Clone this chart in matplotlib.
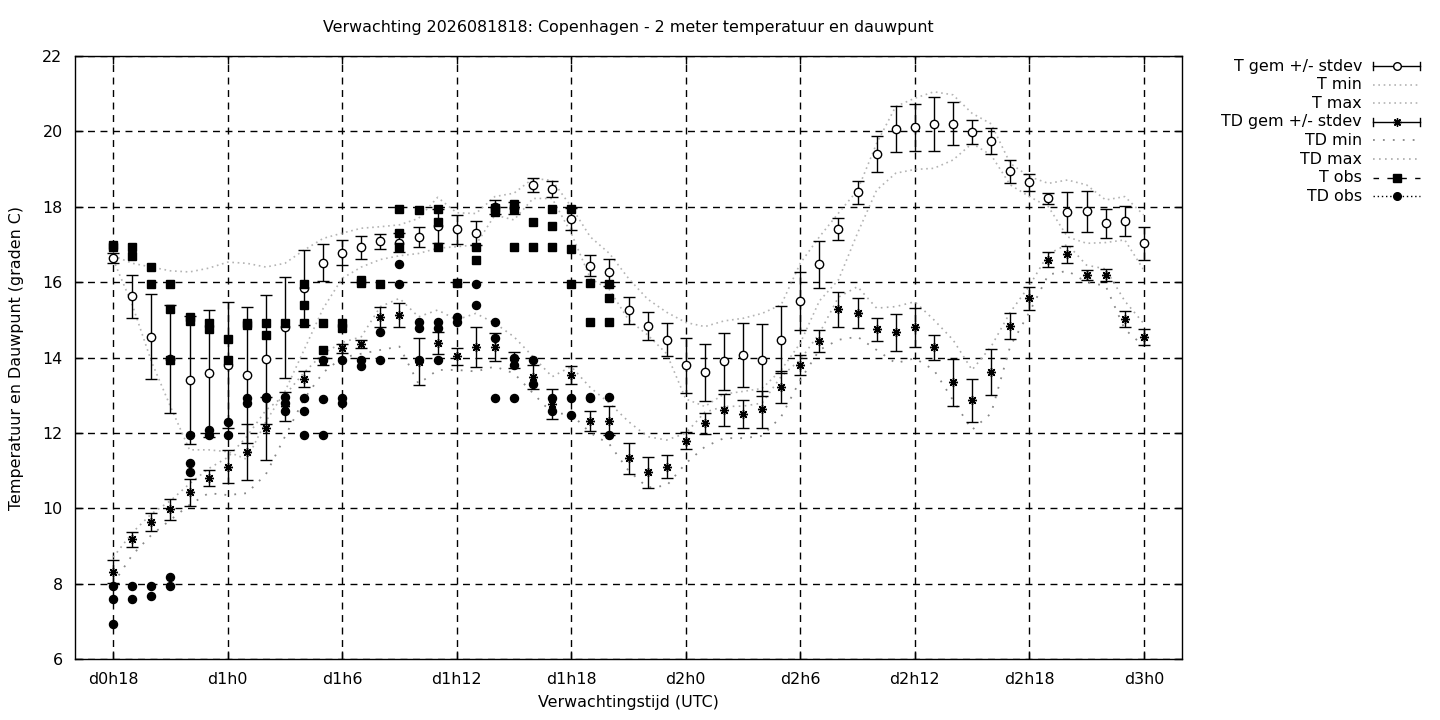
#!/usr/bin/env python3
"""Verwachting Copenhagen: 2 meter temperatuur en dauwpunt (ensemble + obs)."""

import matplotlib
matplotlib.use("Agg")
import matplotlib.pyplot as plt
from matplotlib.lines import Line2D

# uren sinds d0h0
hours = list(range(18, 73))

t_gem = [16.65, 15.63, 14.55, 13.95, 13.40, 13.58, 13.80, 13.54, 13.95, 14.80,
         15.85, 16.52, 16.78, 16.92, 17.08, 17.05, 17.20, 17.49, 17.40, 17.30,
         18.00, 17.97, 18.58, 18.47, 17.67, 16.44, 16.26, 15.25, 14.83, 14.47,
         13.80, 13.61, 13.90, 14.06, 13.93, 14.47, 15.50, 16.47, 17.41, 18.38,
         19.39, 20.06, 20.11, 20.20, 20.20, 19.98, 19.74, 18.94, 18.65, 18.22,
         17.85, 17.88, 17.56, 17.62, 17.03]
t_std = [0.13, 0.57, 1.13, 1.43, 1.70, 1.68, 1.66, 1.81, 1.71, 1.34,
         0.99, 0.49, 0.33, 0.30, 0.21, 0.25, 0.26, 0.45, 0.38, 0.31,
         0.19, 0.15, 0.19, 0.20, 0.29, 0.29, 0.35, 0.36, 0.37, 0.44,
         0.73, 0.76, 0.75, 0.85, 0.96, 0.89, 0.76, 0.63, 0.29, 0.30,
         0.48, 0.61, 0.62, 0.71, 0.57, 0.31, 0.35, 0.30, 0.23, 0.15,
         0.53, 0.54, 0.38, 0.40, 0.44]
t_min = [16.60, 15.40, 13.90, 12.70, 11.55, 11.55, 11.50, 11.30, 12.30, 13.10,
         14.20, 15.30, 16.10, 16.40, 16.60, 16.70, 16.76, 16.90, 16.94, 16.99,
         17.78, 17.65, 18.22, 18.22, 17.30, 16.10, 15.80, 15.00, 14.60, 14.10,
         12.90, 12.70, 13.03, 13.10, 13.18, 13.67, 14.38, 15.50, 16.06, 17.30,
         18.44, 18.89, 18.99, 19.02, 19.24, 19.68, 19.37, 18.58, 18.27, 18.00,
         17.20, 17.03, 17.05, 17.12, 16.32]
t_max = [16.70, 16.50, 16.40, 16.30, 16.27, 16.37, 16.53, 16.50, 16.40, 16.50,
         16.85, 17.16, 17.30, 17.43, 17.47, 17.52, 17.69, 18.25, 17.84, 17.82,
         18.27, 18.36, 18.75, 18.70, 18.00, 17.20, 16.76, 16.10, 15.55, 15.20,
         14.93, 14.82, 14.97, 15.04, 15.17, 15.40, 16.50, 17.20, 17.83, 18.44,
         19.68, 20.66, 20.88, 21.05, 20.97, 20.48, 20.20, 19.15, 18.80, 18.62,
         18.71, 18.58, 18.18, 18.27, 17.78]

td_gem = [8.32, 9.18, 9.63, 9.97, 10.42, 10.80, 11.10, 11.49, 12.12, 12.70,
          13.43, 13.90, 14.24, 14.36, 15.08, 15.13, 13.89, 14.38, 14.03, 14.29,
          14.29, 13.93, 13.48, 12.77, 13.54, 12.32, 12.32, 11.33, 10.96, 11.10,
          11.79, 12.25, 12.61, 12.50, 12.63, 13.22, 13.80, 14.44, 15.28, 15.17,
          14.75, 14.67, 14.80, 14.27, 13.34, 12.87, 13.62, 14.84, 15.57, 16.59,
          16.74, 16.19, 16.19, 15.02, 14.54]
td_std = [0.31, 0.20, 0.24, 0.28, 0.36, 0.22, 0.44, 0.75, 0.84, 0.39,
          0.20, 0.10, 0.13, 0.10, 0.27, 0.31, 0.62, 0.30, 0.22, 0.53,
          0.37, 0.22, 0.31, 0.40, 0.24, 0.27, 0.38, 0.41, 0.41, 0.30,
          0.22, 0.28, 0.42, 0.38, 0.49, 0.43, 0.26, 0.30, 0.46, 0.40,
          0.31, 0.49, 0.52, 0.34, 0.63, 0.57, 0.61, 0.35, 0.30, 0.20,
          0.23, 0.14, 0.15, 0.22, 0.22]
td_min = [8.00, 8.76, 9.29, 9.69, 10.09, 10.40, 10.35, 10.40, 10.90, 11.90,
          12.90, 13.60, 14.00, 14.10, 14.20, 14.29, 13.30, 13.67, 13.67, 13.63,
          13.76, 13.58, 13.05, 12.52, 12.50, 12.00, 11.70, 11.00, 10.55, 10.60,
          11.19, 11.63, 11.86, 11.86, 11.92, 12.43, 13.40, 14.20, 14.47, 14.55,
          14.20, 13.85, 13.98, 13.67, 12.87, 12.08, 12.52, 14.30, 15.20, 16.20,
          16.30, 16.00, 15.90, 14.75, 14.30]
td_max = [8.70, 9.35, 9.85, 10.20, 10.65, 11.05, 11.35, 11.90, 12.60, 13.00,
          13.60, 14.10, 14.40, 14.55, 15.35, 15.57, 15.08, 15.26, 15.00, 15.17,
          14.91, 14.55, 14.02, 13.49, 13.76, 13.20, 12.79, 12.30, 11.90, 11.81,
          11.99, 12.55, 12.70, 12.71, 12.79, 13.50, 13.94, 14.64, 15.60, 15.88,
          15.31, 15.35, 15.48, 15.00, 14.47, 13.67, 14.29, 15.20, 15.90, 16.75,
          17.00, 16.45, 16.35, 15.50, 14.90]

# waarnemingen (meerdere stations per uur)
obs_hours = list(range(18, 45))
t_obs = [[16.99, 16.93], [16.92, 16.69], [16.39, 15.95], [15.95, 15.29, 13.94],
         [15.07, 14.97], [14.92, 14.76], [14.48, 13.94], [14.92, 14.87],
         [14.92, 14.60], [14.92], [15.95, 15.39, 14.92], [14.92, 14.20],
         [14.92, 14.78], [16.05, 15.97], [15.95], [17.95, 17.30, 16.92],
         [17.92], [17.93, 17.60, 16.94], [15.97], [16.94, 16.59],
         [17.96, 17.87], [18.08, 17.93, 16.93], [17.60, 16.94],
         [17.94, 17.49, 16.93], [17.94, 16.87, 15.95], [15.97, 14.93],
         [15.95, 15.57, 14.93]]
td_obs = [[7.95, 7.60, 6.93], [7.95, 7.60], [7.95, 7.67], [8.17, 7.95],
          [11.94, 11.19, 10.95], [12.08, 11.94], [12.28, 11.94], [12.92, 12.79],
          [12.96, 12.92], [12.96, 12.79, 12.58], [12.92, 12.58, 11.94],
          [13.94, 12.90, 11.94], [13.94, 12.92, 12.79], [13.94, 13.78],
          [14.67, 13.94], [16.48, 15.95], [14.95, 14.78, 13.94],
          [14.95, 14.78, 13.94], [15.97, 15.08, 14.93], [15.95, 15.39],
          [14.93, 14.51, 12.92], [13.98, 13.80, 12.92], [13.94, 13.30],
          [12.92, 12.58], [12.92, 12.47], [12.96, 12.92], [12.96, 11.94]]

x_ticks = [18, 24, 30, 36, 42, 48, 54, 60, 66, 72]
x_tick_labels = ['d0h18', 'd1h0', 'd1h6', 'd1h12', 'd1h18',
                 'd2h0', 'd2h6', 'd2h12', 'd2h18', 'd3h0']
y_ticks = [6, 8, 10, 12, 14, 16, 18, 20, 22]

FS = 11.4
T_LINE = dict(color='#b4b4b4', lw=1.2, ls=(0, (1, 2.2)))
TDMIN_LINE = dict(color='#888888', lw=1.3, ls=(0, (1, 4.5)))
TDMAX_LINE = dict(color='#aaaaaa', lw=1.2, ls=(0, (1, 2.6)))
STAR = (8, 2, 0)


def flatten(hrs, groups):
    xs, ys = [], []
    for h, vals in zip(hrs, groups):
        for v in vals:
            xs.append(h)
            ys.append(v)
    return xs, ys


def draw_legend(fig):
    """Legenda rechts buiten de grafiek, gnuplot-stijl."""
    W, H = 1440.0, 720.0
    x_text, x0, x1 = 1362, 1373, 1420
    xm = (x0 + x1) / 2
    rows = ['T gem +/- stdev', 'T min', 'T max', 'TD gem +/- stdev',
            'TD min', 'TD max', 'T obs', 'TD obs']
    for i, label in enumerate(rows):
        py = 66 + i * 18.6
        y = 1 - py / H
        fig.text(x_text / W, y, label, ha='right', va='center', fontsize=FS)
        xs = [x0 / W, x1 / W]
        if i in (0, 3):
            fig.add_artist(Line2D(xs, [y, y], color='black', lw=1))
            for xc in (x0, x1):
                fig.add_artist(Line2D([xc / W, xc / W], [y - 4 / H, y + 4 / H],
                                      color='black', lw=1))
            if i == 0:
                fig.add_artist(Line2D([xm / W], [y], marker='o', ms=5.5,
                                      mfc='white', mec='black', mew=1))
            else:
                fig.add_artist(Line2D([xm / W], [y], marker=STAR, ms=6,
                                      color='black', mew=1))
        elif i in (1, 2):
            fig.add_artist(Line2D(xs, [y, y], **T_LINE))
        elif i == 4:
            fig.add_artist(Line2D(xs, [y, y], **TDMIN_LINE))
        elif i == 5:
            fig.add_artist(Line2D(xs, [y, y], **TDMAX_LINE))
        elif i == 6:
            fig.add_artist(Line2D(xs, [y, y], color='black', lw=1,
                                  ls=(0, (4, 6))))
            fig.add_artist(Line2D([xm / W], [y], marker='s', ms=5.5,
                                  color='black'))
        else:
            fig.add_artist(Line2D(xs, [y, y], color='black', lw=1,
                                  ls=(0, (1, 2))))
            fig.add_artist(Line2D([xm / W], [y], marker='o', ms=5.5,
                                  color='black'))


def main():
    plt.rcParams['font.family'] = ['DejaVu Sans']
    fig = plt.figure(figsize=(14.4, 7.2), dpi=100)
    ax = fig.add_axes([75 / 1440, 61 / 720, 1107 / 1440, 603 / 720])

    ax.plot(hours, t_min, zorder=2, **T_LINE)
    ax.plot(hours, t_max, zorder=2, **T_LINE)
    ax.plot(hours, td_min, zorder=2, **TDMIN_LINE)
    ax.plot(hours, td_max, zorder=2, **TDMAX_LINE)

    ax.errorbar(hours, t_gem, yerr=t_std, fmt='o', ms=6, mfc='white',
                mec='black', mew=1, ecolor='black', elinewidth=1,
                capsize=4.3, capthick=1, zorder=4)
    ax.errorbar(hours, td_gem, yerr=td_std, fmt='none', ecolor='black',
                elinewidth=1, capsize=4.3, capthick=1, zorder=4)
    ax.plot(hours, td_gem, ls='none', marker=STAR, ms=6.5, color='black',
            mew=1, zorder=5)

    tx, ty = flatten(obs_hours, t_obs)
    dx, dy = flatten(obs_hours, td_obs)
    ax.plot(tx, ty, ls='none', marker='s', ms=5.5, color='black', zorder=6)
    ax.plot(dx, dy, ls='none', marker='o', ms=5.8, color='black', zorder=6)

    ax.set_xlim(16, 74)
    ax.set_ylim(6, 22)
    ax.set_xticks(x_ticks)
    ax.set_xticklabels(x_tick_labels)
    ax.set_yticks(y_ticks)
    ax.tick_params(direction='in', length=6, width=1, top=True, right=True,
                   labelsize=FS, pad=9)
    ax.grid(True, color='black', lw=1, ls=(0, (5, 4)), zorder=1)
    ax.set_axisbelow(True)
    for sp in ax.spines.values():
        sp.set_linewidth(1)

    ax.set_xlabel('Verwachtingstijd (UTC)', fontsize=FS, labelpad=6)
    ax.set_ylabel('Temperatuur en Dauwpunt (graden C)', fontsize=FS,
                  labelpad=13)
    ax.set_title('Verwachting 2026081818: Copenhagen - 2 meter temperatuur '
                 'en dauwpunt', fontsize=FS, pad=17)

    draw_legend(fig)
    fig.savefig('out.png', dpi=100)


if __name__ == "__main__":
    main()
